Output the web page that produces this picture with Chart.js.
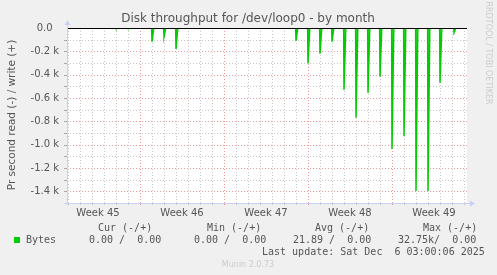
<!DOCTYPE html>
<html lang="en">
<head>
  <meta charset="UTF-8">
  <title>Disk throughput for /dev/loop0 - by month</title>
  <script src="https://cdn.jsdelivr.net/npm/chart.js"></script>
  <style>
    html, body { margin: 0; padding: 0; background: #f0f0f0; }
    canvas { display: block; }
  </style>
</head>
<body>
  <canvas id="chart" width="497" height="275"></canvas>

  <script>
    // days counted from Mon Nov 3 2025 00:00 (start of week 45)
    const xMin = 0.9167;
    const xMax = 34.25;
    const weekLabels = ['Week 45', 'Week 46', 'Week 47', 'Week 48', 'Week 49'];
    const weekStarts = [0, 7, 14, 21, 28];
    const yTickValues = [0, -200, -400, -600, -800, -1000, -1200, -1400];

    // read (-) spikes, bytes per second
    const spikeDays = [5, 6, 8, 9, 10, 20, 21, 22, 23, 24, 25, 26, 27, 28, 29, 30, 31, 32, 33.17];
    const spikeRead = [-5, -4, -118, -75, -180, -110, -303, -220, -118, -530, -770, -556, -418, -1037, -925, -1398, -1398, -470, -40];
    const dataEnd = 33.25;

    const legendHead = ['Cur (-/+)', 'Min (-/+)', 'Avg (-/+)', 'Max (-/+)'];
    const legendName = 'Bytes';
    const legendVals = ['0.00 /  0.00', '0.00 /  0.00', '21.89 /  0.00', '32.75k/  0.00'];
    const lastUpdate = 'Last update: Sat Dec  6 03:00:06 2025';

    const points = [{ x: xMin, y: 0 }];
    spikeDays.forEach((d, i) => {
      points.push({ x: d - 0.03, y: 0 });
      points.push({ x: d, y: spikeRead[i] });
      points.push({ x: d + 0.15, y: 0 });
    });
    points.push({ x: dataEnd, y: 0 });

    const textCol = '#555555';
    const axisCol = '#c8d0f4';

    const munin = {
      id: 'munin',
      beforeDraw(chart) {
        const c = chart.ctx, a = chart.chartArea;
        const xs = chart.scales.x, ys = chart.scales.y;
        c.save();
        c.fillStyle = '#f0f0f0';
        c.fillRect(0, 0, chart.width, chart.height);
        c.fillStyle = '#ffffff';
        c.fillRect(a.left, a.top, a.right - a.left, a.bottom - a.top);
        c.lineWidth = 1;
        c.setLineDash([1, 2]);
        // vertical grid, one per day
        for (let d = Math.ceil(xMin); d <= xMax; d++) {
          const px = Math.round(xs.getPixelForValue(d)) + 0.5;
          const major = weekStarts.includes(d);
          c.strokeStyle = major ? 'rgba(230,130,130,0.8)' : 'rgba(195,195,195,0.9)';
          c.beginPath(); c.moveTo(px, a.top); c.lineTo(px, a.bottom); c.stroke();
          c.setLineDash([]);
          c.beginPath(); c.moveTo(px, a.bottom); c.lineTo(px, a.bottom + 2); c.stroke();
          c.setLineDash([1, 2]);
        }
        // horizontal grid, every 100
        for (let v = -1400; v < 0; v += 100) {
          const py = Math.round(ys.getPixelForValue(v)) + 0.5;
          const major = v % 200 === 0;
          c.strokeStyle = major ? 'rgba(230,130,130,0.8)' : 'rgba(195,195,195,0.9)';
          c.beginPath(); c.moveTo(a.left, py); c.lineTo(a.right + 2, py); c.stroke();
          c.setLineDash([]);
          c.strokeStyle = 'rgba(150,150,150,0.8)';
          c.beginPath(); c.moveTo(a.left - 3, py); c.lineTo(a.left, py); c.stroke();
          c.setLineDash([1, 2]);
        }
        c.restore();
      },
      afterDatasetsDraw(chart) {
        const c = chart.ctx, a = chart.chartArea;
        const ys = chart.scales.y;
        c.save();
        c.lineWidth = 1;
        // zero line
        const zy = Math.round(ys.getPixelForValue(0)) + 0.5;
        c.strokeStyle = '#000000';
        c.beginPath(); c.moveTo(a.left, zy); c.lineTo(a.right, zy); c.stroke();
        // axes
        c.strokeStyle = axisCol;
        c.fillStyle = axisCol;
        const ax = Math.round(a.left) + 0.5, ay = Math.round(a.bottom) + 0.5;
        c.beginPath(); c.moveTo(ax, ay + 2); c.lineTo(ax, a.top - 3); c.stroke();
        c.beginPath(); c.moveTo(ax - 3, ay); c.lineTo(a.right + 3, ay); c.stroke();
        c.beginPath(); c.moveTo(ax - 3, a.top - 3); c.lineTo(ax + 3, a.top - 3); c.lineTo(ax, a.top - 8); c.closePath(); c.fill();
        c.beginPath(); c.moveTo(a.right + 3, ay - 3); c.lineTo(a.right + 3, ay + 3); c.lineTo(a.right + 8, ay); c.closePath(); c.fill();
        c.restore();
      },
      afterDraw(chart) {
        const c = chart.ctx;
        c.save();
        c.fillStyle = textCol;
        c.textBaseline = 'middle';
        c.textAlign = 'center';
        c.font = '12px "DejaVu Sans"';
        c.fillText('Disk throughput for /dev/loop0 - by month', 248, 19);
        c.save();
        c.translate(12, 115);
        c.rotate(-Math.PI / 2);
        c.font = '10.5px "DejaVu Sans"';
        c.fillText('Pr second read (-) / write (+)', 0, 0);
        c.restore();
        c.save();
        c.translate(488, 53);
        c.rotate(Math.PI / 2);
        c.fillStyle = '#cccccc';
        c.font = '8px "DejaVu Sans"';
        c.fillText('RRDTOOL / TOBI OETIKER', 0, 0);
        c.restore();

        c.textAlign = 'left';
        c.font = '10px "DejaVu Sans Mono"';
        const headX = [98, 207, 315, 423];
        legendHead.forEach((t, i) => c.fillText(t, headX[i], 228));
        const valX = [89, 194, 293, 398];
        legendVals.forEach((t, i) => c.fillText(t, valX[i], 240));
        c.fillText(legendName, 26, 240);
        c.fillText(lastUpdate, 262, 252);
        c.fillStyle = '#00cc00';
        c.fillRect(14, 237, 6, 6);
        c.fillStyle = '#cccccc';
        c.textAlign = 'center';
        c.font = '8px "DejaVu Sans"';
        c.fillText('Munin 2.0.73', 248, 265);
        c.restore();
      }
    };

    new Chart(document.getElementById('chart'), {
      type: 'line',
      data: {
        datasets: [{
          label: legendName,
          data: points,
          borderColor: '#00cc00',
          borderWidth: 1.5,
          backgroundColor: 'rgba(0,204,0,0.45)',
          fill: 'origin',
          pointRadius: 0,
          tension: 0
        }]
      },
      options: {
        responsive: false,
        animation: false,
        events: [],
        layout: { padding: { left: 20, top: 28, right: 30, bottom: 52 } },
        plugins: { legend: { display: false }, tooltip: { enabled: false } },
        scales: {
          x: {
            type: 'linear',
            min: xMin,
            max: xMax,
            afterFit: s => { s.height = 20; },
            afterBuildTicks: s => { s.ticks = weekStarts.map(w => ({ value: w + 3.5 })); },
            grid: { display: false, drawTicks: false },
            border: { display: false },
            ticks: {
              padding: 4,
              color: textCol,
              font: { family: 'DejaVu Sans', size: 10 },
              maxRotation: 0,
              callback: (v, i) => weekLabels[i]
            }
          },
          y: {
            min: -1500,
            max: 0,
            afterFit: s => { s.width = 47; },
            afterBuildTicks: s => { s.ticks = yTickValues.map(v => ({ value: v })); },
            grid: { display: false, drawTicks: false },
            border: { display: false },
            ticks: {
              padding: 8,
              color: textCol,
              font: { family: 'DejaVu Sans', size: 10 },
              callback: v => v === 0 ? '0.0  ' : (v / 1000).toFixed(1) + ' k'
            }
          }
        }
      },
      plugins: [munin]
    });
  </script>
</body>
</html>
